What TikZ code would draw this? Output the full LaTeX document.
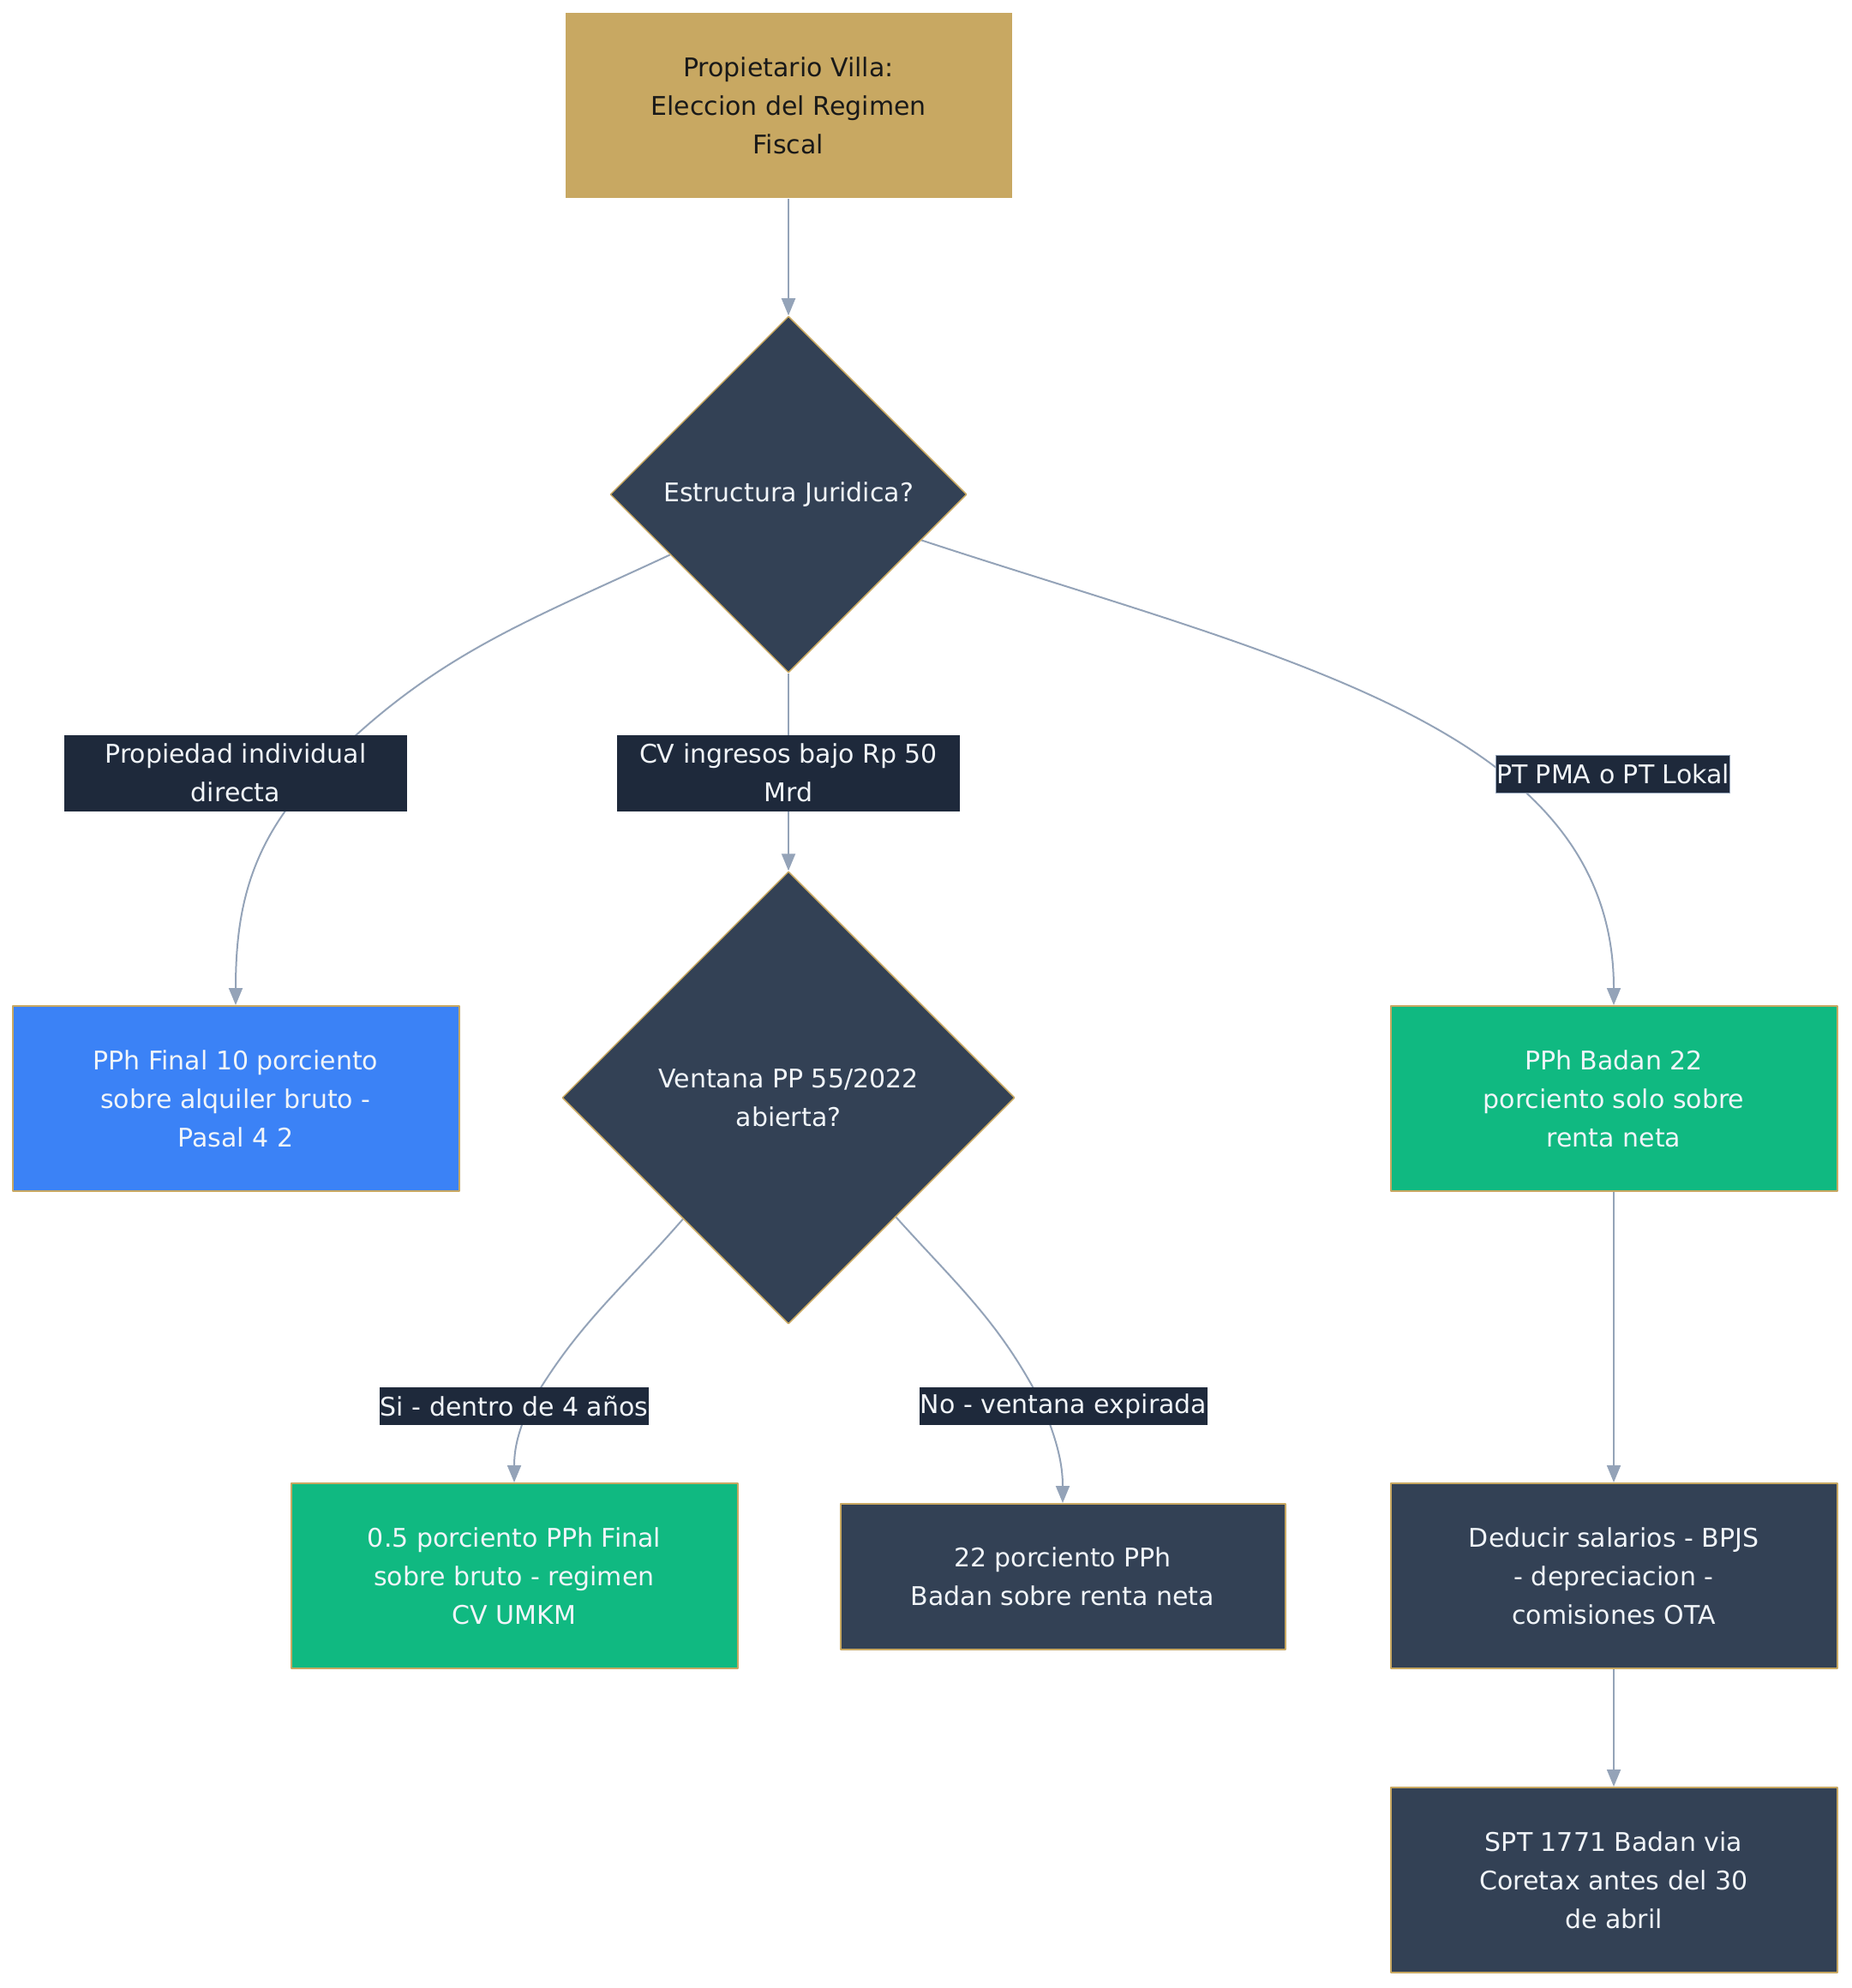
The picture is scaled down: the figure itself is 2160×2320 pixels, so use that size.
\documentclass[tikz,border=0pt]{standalone}
\usepackage{fontspec}
\setmainfont{DejaVu Sans}
\usetikzlibrary{shapes.geometric,arrows.meta,backgrounds}
\definecolor{oro}{HTML}{C8A862}
\definecolor{pizarra}{HTML}{334155}
\definecolor{fondoetq}{HTML}{1E293B}
\definecolor{azul}{HTML}{3B82F6}
\definecolor{verde}{HTML}{10B981}
\definecolor{linea}{HTML}{94A3B8}
\definecolor{claro}{HTML}{F1F5F9}
\tikzset{
	caja/.style={rectangle, draw=oro, line width=2pt, minimum width=521pt, minimum height=216pt, inner sep=0pt, align=center, text=claro},
	rombo/.style={diamond, aspect=1, draw=oro, line width=1.5pt, fill=pizarra, inner sep=0pt, align=center, text=claro},
	etq/.style={fill=fondoetq, text=claro, align=center, inner xsep=1pt, inner ysep=0pt, minimum height=44pt},
	flecha/.style={draw=linea, line width=2pt, -{Triangle[length=20pt,width=16pt]}}
}
\begin{document}
\begin{tikzpicture}[x=1pt, y=-1pt, font=\fontsize{30}{45}\selectfont, line join=round]
			\def\cx{920} % columna central
			\def\lx{275} % columna izquierda
			\def\rx{1883} % columna derecha
			\useasboundingbox (0,0) rectangle (2160,2320);
			% cajas
			\node[caja, fill=oro, draw=none, text=black!90] (inicio) at (\cx,123) {Propietario Villa:\\Eleccion del Regimen\\Fiscal};
			\node[rombo, minimum width=416pt, minimum height=416pt] (estructura) at (\cx,577) {Estructura Juridica?};
			\node[rombo, minimum width=528pt, minimum height=528pt] (ventana) at (\cx,1281) {Ventana PP 55/2022\\abierta?};
			\node[caja, fill=azul] (final) at (\lx,1282) {PPh Final 10 porciento\\sobre alquiler bruto -\\Pasal 4 2};
			\node[caja, fill=verde] (badan) at (\rx,1282) {PPh Badan 22\\porciento solo sobre\\renta neta};
			\node[caja, fill=verde] (umkm) at (600,1839) {0.5 porciento PPh Final\\sobre bruto - regimen\\CV UMKM};
			\node[caja, fill=pizarra, minimum width=519pt, minimum height=170pt] (neta) at (1240,1840) {22 porciento PPh\\Badan sobre renta neta};
			\node[caja, fill=pizarra] (deducir) at (\rx,1839) {Deducir salarios - BPJS\\- depreciacion -\\comisiones OTA};
			\node[caja, fill=pizarra] (spt) at (\rx,2194) {SPT 1771 Badan via\\Coretax antes del 30\\de abril};
			% etiquetas
			\node[etq, minimum width=400pt, minimum height=89pt] (eIndiv) at (\lx,902) {Propiedad individual\\directa};
			\node[etq, minimum width=400pt, minimum height=89pt] (eCV) at (\cx,902) {CV ingresos bajo Rp 50\\Mrd};
			\node[etq, draw=linea, line width=1pt] (ePT) at (1882,903) {PT PMA o PT Lokal};
			\node[etq] (eSi) at (600,1641) {Si - dentro de 4 años};
			\node[etq] (eNo) at (1241,1641) {No - ventana expirada};
			% flechas
			\begin{pgfonlayer}{background}
			\draw[flecha] (inicio) -- (estructura);
			\draw[flecha] (estructura.207) to[out=205,in=46] ([xshift=95pt]eIndiv.center) to[out=226,in=90] (final.north);
			\draw[flecha] (estructura.south) -- (ventana.north);
			\draw[flecha] (estructura.341) .. controls +(420,138) and +(0,-325) .. (badan.north);
			\draw[flecha] (ventana.229) to[out=229,in=60] ([xshift=18pt]eSi.center) to[out=245,in=90] (umkm.north);
			\draw[flecha] (ventana.-48) to[out=-48,in=117] ([xshift=-24pt]eNo.center) to[out=-68,in=90] (neta.north);
			\draw[flecha] (badan) -- (deducir);
			\draw[flecha] (deducir) -- (spt);
			\end{pgfonlayer}
\end{tikzpicture}
\end{document}
